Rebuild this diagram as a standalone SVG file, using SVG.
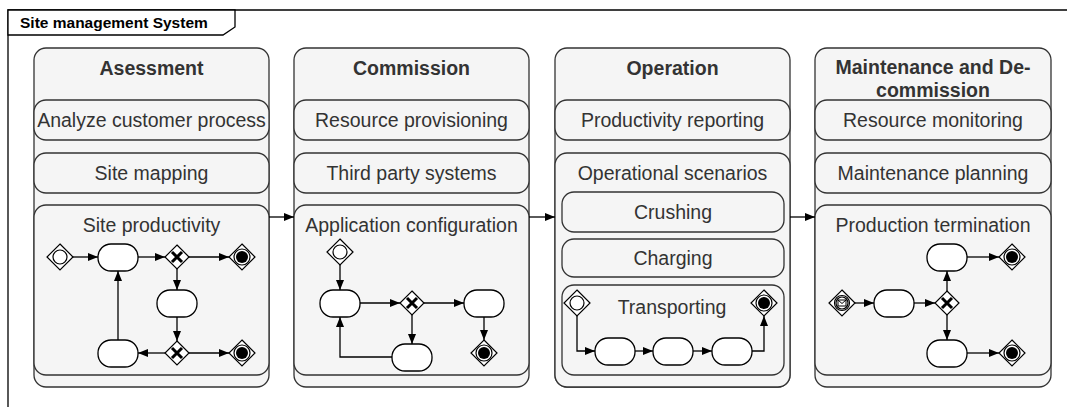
<svg xmlns="http://www.w3.org/2000/svg" xmlns:xlink="http://www.w3.org/1999/xlink" width="1067" height="407" viewBox="0 0 1067 407">
  <style>
    .frame { fill: none; stroke: #000; stroke-width: 1.3; }
    .flabel { fill: #fff; stroke: #000; stroke-width: 1.3; }
    .ftext { font-family: "Liberation Sans", Arial, sans-serif; font-size: 15.5px; font-weight: bold; fill: #000; }
    .box { fill: #f5f5f5; stroke: #333; stroke-width: 1.3; }
    .title { font-family: "Liberation Sans", Arial, sans-serif; font-size: 19.5px; font-weight: bold; fill: #333; text-anchor: middle; }
    .lbl { font-family: "Liberation Sans", Arial, sans-serif; font-size: 19.5px; fill: #333; text-anchor: middle; }
    .task { fill: #fff; stroke: #000; stroke-width: 1.3; }
    .edge { fill: none; stroke: #000; stroke-width: 1.3; marker-end: url(#arrow); }
    .ev { fill: #fff; stroke: #000; stroke-width: 1.2; }
  </style>
  <defs>
    <marker id="arrow" markerUnits="userSpaceOnUse" markerWidth="11" markerHeight="8" refX="10" refY="4" orient="auto">
      <path d="M0,0 L10,4 L0,8 z" fill="#000"/>
    </marker>
    <g id="startEv">
      <polygon class="ev" points="0,-13 13,0 0,13 -13,0"/>
      <circle class="ev" r="7"/>
    </g>
    <g id="endEv">
      <polygon class="ev" points="0,-13 13,0 0,13 -13,0"/>
      <circle class="ev" r="8"/>
      <circle r="6" fill="#000"/>
    </g>
    <g id="xorGw">
      <polygon class="ev" points="0,-12 12,0 0,12 -12,0"/>
      <path d="M-5,-5 L5,5 M5,-5 L-5,5" stroke="#000" stroke-width="3"/>
    </g>
    <g id="msgEv">
      <polygon class="ev" points="0,-13 13,0 0,13 -13,0"/>
      <circle class="ev" r="7.5"/>
      <circle class="ev" r="6"/>
      <rect x="-4" y="-3" width="8" height="6" fill="#fff" stroke="#000" stroke-width="1"/>
      <path d="M-4,-3 L0,0.5 L4,-3" fill="none" stroke="#000" stroke-width="1"/>
    </g>
  </defs>

  <!-- system frame -->
  <g id="frame">
    <path class="frame" d="M8,407 V10 H1067"/>
    <path class="flabel" d="M8,10 H235 V27 L223,35 H8 Z"/>
    <text class="ftext" x="20" y="28">Site management System</text>
  </g>

  <!-- Assessment -->
  <g id="assessment">
    <rect class="box" x="34" y="48" width="235" height="339" rx="12"/>
    <text class="title" x="151.5" y="75">Asessment</text>
    <rect class="box" x="34" y="100" width="235" height="40" rx="12"/>
    <text class="lbl" x="151.5" y="127">Analyze customer process</text>
    <rect class="box" x="34" y="153" width="235" height="40" rx="12"/>
    <text class="lbl" x="151.5" y="180">Site mapping</text>
    <rect class="box" x="34" y="205" width="235" height="170" rx="12"/>
    <text class="lbl" x="151.5" y="232">Site productivity</text>
    <use xlink:href="#startEv" x="60" y="257"/>
    <rect class="task" x="98" y="244" width="40" height="27" rx="13"/>
    <use xlink:href="#xorGw" x="177" y="257"/>
    <use xlink:href="#endEv" x="242" y="257"/>
    <rect class="task" x="157" y="290" width="40" height="27" rx="13"/>
    <use xlink:href="#xorGw" x="177" y="353"/>
    <rect class="task" x="98" y="340" width="40" height="27" rx="13"/>
    <use xlink:href="#endEv" x="242" y="353"/>
  </g>

  <!-- Commission -->
  <g id="commission">
    <rect class="box" x="294" y="48" width="235" height="339" rx="12"/>
    <text class="title" x="411.5" y="75">Commission</text>
    <rect class="box" x="294" y="100" width="235" height="40" rx="12"/>
    <text class="lbl" x="411.5" y="127">Resource provisioning</text>
    <rect class="box" x="294" y="153" width="235" height="40" rx="12"/>
    <text class="lbl" x="411.5" y="180">Third party systems</text>
    <rect class="box" x="294" y="205" width="235" height="170" rx="12"/>
    <text class="lbl" x="411.5" y="232">Application configuration</text>
    <use xlink:href="#startEv" x="340" y="252"/>
    <rect class="task" x="320" y="290" width="40" height="27" rx="13"/>
    <use xlink:href="#xorGw" x="412" y="303"/>
    <rect class="task" x="464" y="290" width="40" height="27" rx="13"/>
    <use xlink:href="#endEv" x="484" y="353"/>
    <rect class="task" x="392" y="344" width="40" height="27" rx="13"/>
  </g>

  <!-- Operation -->
  <g id="operation">
    <rect class="box" x="555" y="48" width="235" height="339" rx="12"/>
    <text class="title" x="672.5" y="75">Operation</text>
    <rect class="box" x="555" y="100" width="235" height="40" rx="12"/>
    <text class="lbl" x="672.5" y="127">Productivity reporting</text>
    <rect class="box" x="555" y="153" width="235" height="234" rx="12"/>
    <text class="lbl" x="672.5" y="180">Operational scenarios</text>
    <rect class="box" x="562" y="192" width="222" height="40" rx="12"/>
    <text class="lbl" x="673" y="219">Crushing</text>
    <rect class="box" x="562" y="239" width="222" height="38" rx="12"/>
    <text class="lbl" x="673" y="265">Charging</text>
    <rect class="box" x="562" y="285" width="222" height="90" rx="12"/>
    <text class="lbl" x="672" y="314">Transporting</text>
    <use xlink:href="#startEv" x="577" y="303"/>
    <use xlink:href="#endEv" x="764" y="303"/>
    <rect class="task" x="595" y="338" width="40" height="27" rx="13"/>
    <rect class="task" x="653" y="338" width="40" height="27" rx="13"/>
    <rect class="task" x="712" y="338" width="40" height="27" rx="13"/>
  </g>

  <!-- Maintenance and De-commission -->
  <g id="maintenance">
    <rect class="box" x="815" y="48" width="236" height="339" rx="12"/>
    <text class="title" x="933" y="74">Maintenance and De-</text>
    <text class="title" x="933" y="97">commission</text>
    <rect class="box" x="815" y="100" width="236" height="40" rx="12"/>
    <text class="lbl" x="933" y="127">Resource monitoring</text>
    <rect class="box" x="815" y="153" width="236" height="40" rx="12"/>
    <text class="lbl" x="933" y="180">Maintenance planning</text>
    <rect class="box" x="815" y="205" width="236" height="170" rx="12"/>
    <text class="lbl" x="933" y="232">Production termination</text>
    <use xlink:href="#msgEv" x="842" y="303"/>
    <rect class="task" x="874" y="290" width="40" height="27" rx="13"/>
    <use xlink:href="#xorGw" x="947" y="303"/>
    <rect class="task" x="927" y="244" width="40" height="27" rx="13"/>
    <rect class="task" x="927" y="340" width="40" height="27" rx="13"/>
    <use xlink:href="#endEv" x="1012" y="257"/>
    <use xlink:href="#endEv" x="1012" y="353"/>
  </g>

  <!-- connectors -->
  <g id="connectors">
    <path class="edge" d="M269,217 H294"/>
    <path class="edge" d="M529,217 H555"/>
    <path class="edge" d="M790,217 H815"/>

    <path class="edge" d="M73,257 H98"/>
    <path class="edge" d="M138,257 H165"/>
    <path class="edge" d="M189,257 H229"/>
    <path class="edge" d="M177,269 V290"/>
    <path class="edge" d="M177,317 V341"/>
    <path class="edge" d="M165,353 H138"/>
    <path class="edge" d="M189,353 H229"/>
    <path class="edge" d="M118,340 V271"/>

    <path class="edge" d="M340,265 V290"/>
    <path class="edge" d="M360,303 H400"/>
    <path class="edge" d="M424,303 H464"/>
    <path class="edge" d="M484,317 V340"/>
    <path class="edge" d="M412,315 V344"/>
    <path class="edge" d="M392,357 H340 V317"/>

    <path class="edge" d="M577,316 V351 H595"/>
    <path class="edge" d="M635,351 H653"/>
    <path class="edge" d="M693,351 H712"/>
    <path class="edge" d="M752,351 H764 V316"/>

    <path class="edge" d="M855,303 H874"/>
    <path class="edge" d="M914,303 H935"/>
    <path class="edge" d="M947,291 V271"/>
    <path class="edge" d="M947,315 V340"/>
    <path class="edge" d="M967,257 H999"/>
    <path class="edge" d="M967,353 H999"/>
  </g>
</svg>
